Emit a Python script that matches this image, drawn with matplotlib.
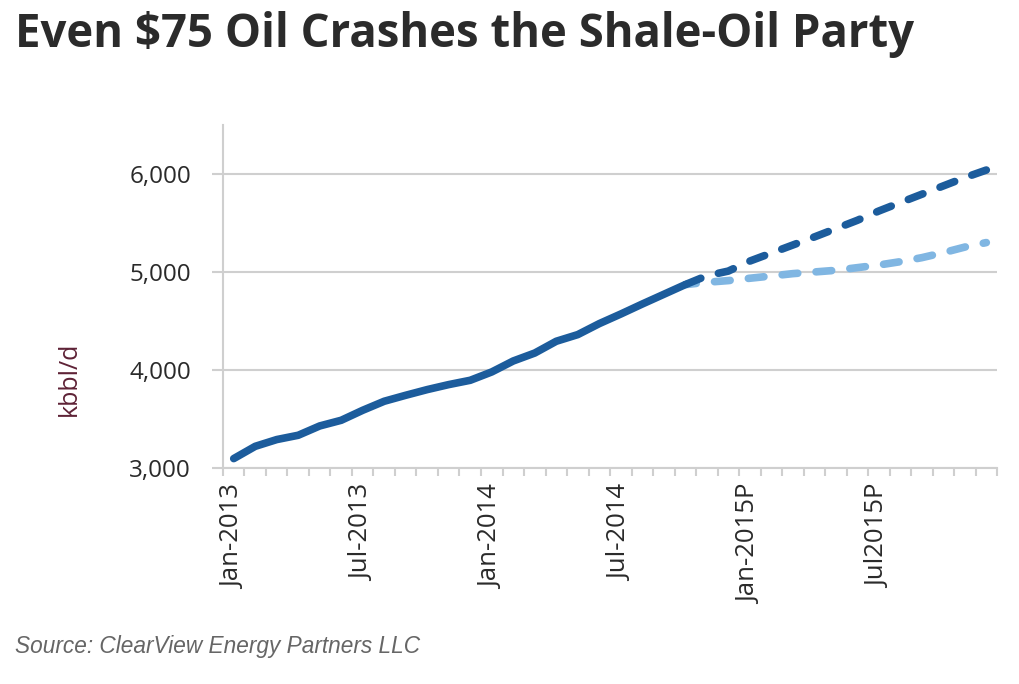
import matplotlib.pyplot as plt
from matplotlib.ticker import FuncFormatter

# monthly US shale output, kbbl/d (Jan-2013 .. Dec-2015)
months = [f"{m}-{y}" for y in (2013, 2014, 2015) for m in
          ["Jan", "Feb", "Mar", "Apr", "May", "Jun",
           "Jul", "Aug", "Sep", "Oct", "Nov", "Dec"]]
tick_labels = ["Jan-2013", "Jul-2013", "Jan-2014", "Jul-2014", "Jan-2015P", "Jul2015P"]
tick_months = [0, 6, 12, 18, 24, 30]

actual = [3096, 3221, 3290, 3334, 3429, 3487, 3589, 3681, 3742, 3800, 3851,
          3895, 3980, 4092, 4173, 4293, 4361, 4473, 4571, 4673, 4772, 4871]
high_case = [4871, 4961, 5009, 5111, 5193, 5275, 5357, 5442, 5527, 5622,
             5708, 5793, 5878, 5963, 6040]
oil75_case = [4871, 4895, 4912, 4936, 4959, 4983, 5000, 5017, 5044, 5071,
              5105, 5146, 5197, 5254, 5300]

DARK = "#1c5c9c"
LIGHT = "#80b6e2"
GRID = "#cfcfcf"
TXT = "#2a2a2a"

fig = plt.figure(figsize=(10.2, 6.84), dpi=100)
ax = fig.add_axes([0.2186, 0.3158, 0.7589, 0.5015])

x_act = list(range(len(actual)))
x_proj = list(range(len(actual) - 1, len(actual) - 1 + len(high_case)))

ax.plot(x_proj, oil75_case, color=LIGHT, lw=5.5, linestyle=(0.6, (2.05, 2.4)),
        dash_capstyle="round", solid_capstyle="round")
ax.plot(x_proj, high_case, color=DARK, lw=5.5, linestyle=(4.3, (2.05, 2.4)),
        dash_capstyle="round", solid_capstyle="round")
ax.plot(x_act, actual, color=DARK, lw=5.5, solid_capstyle="round",
        solid_joinstyle="round")

ax.set_xlim(-0.5, len(months) - 0.5)
ax.set_ylim(3000, 6500)
ax.set_yticks([3000, 4000, 5000, 6000])
ax.yaxis.set_major_formatter(FuncFormatter(lambda v, p: f"{int(v):,}"))
ax.grid(axis="y", color=GRID, lw=1.5)
ax.set_axisbelow(True)

# category axis: ticks on month boundaries, labels centred on months
ax.set_xticks([i - 0.5 for i in range(len(months) + 1)])
ax.set_xticklabels([])
ax.set_xticks(tick_months, minor=True)
ax.set_xticklabels(tick_labels, minor=True, rotation=90, va="top", ha="center",
                   fontsize=18.5, color=TXT, family="Open Sans")
ax.tick_params(axis="x", which="major", length=6, width=1.5, color=GRID)
ax.tick_params(axis="x", which="minor", length=0, pad=12)
ax.tick_params(axis="y", length=8, width=1.5, color=GRID, pad=15,
               labelsize=17.5, labelcolor=TXT)
for lab in ax.get_yticklabels():
    lab.set_family("Open Sans")

for s in ["top", "right"]:
    ax.spines[s].set_visible(False)
for s in ["left", "bottom"]:
    ax.spines[s].set_color(GRID)
    ax.spines[s].set_linewidth(1.5)

ax.set_ylabel("kbbl/d", fontsize=18, color="#5e2236", family="Open Sans")
ax.yaxis.set_label_coords(-0.182, 0.26)

fig.text(15 / 1020, 1 - 47 / 684, "Even $75 Oil Crashes the Shale-Oil Party",
         fontsize=32.8, fontweight="bold", family="Open Sans", color="#2b2b2b",
         va="baseline", ha="left")
fig.text(15 / 1020, 1 - 653 / 684, "Source: ClearView Energy Partners LLC",
         fontsize=16.3, style="italic", family="Liberation Sans", color="#666666",
         va="baseline", ha="left")

fig.savefig("out.png", dpi=100)
